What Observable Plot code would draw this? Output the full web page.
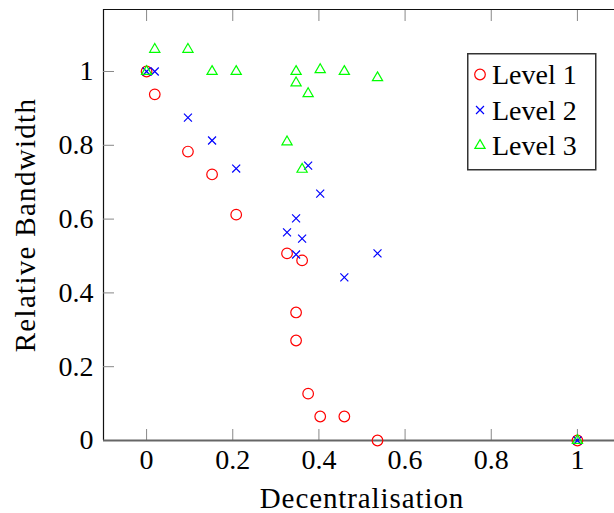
<!DOCTYPE html>
<html>
<head>
<meta charset="utf-8">
<script src="https://cdn.jsdelivr.net/npm/d3@7"></script>
<script src="https://cdn.jsdelivr.net/npm/@observablehq/plot@0.6"></script>
<style>
  html, body { margin: 0; padding: 0; background: #fff; overflow: hidden; }
  #wrap { position: relative; width: 614px; height: 513px; overflow: hidden; }
  #legend { position: absolute; left: 466.5px; top: 52.5px; }
</style>
</head>
<body>
<div id="wrap"></div>
<script>
// ---- data ----
const decentralisation = [0, 0.019, 0.096, 0.152, 0.208, 0.326, 0.347, 0.347, 0.361, 0.375, 0.403, 0.459, 0.536, 1];
const level1 = [1, 0.938, 0.783, 0.721, 0.612, 0.507, 0.347, 0.271, 0.488, 0.127, 0.065, 0.065, 0, 0];
const level2 = [1, 1, 0.875, 0.813, 0.737, 0.564, 0.602, 0.504, 0.547, 0.745, 0.669, 0.442, 0.507, 0];
const level3 = [1, 1.06, 1.06, 1.0, 1.0, 0.809, 1.0, 0.969, 0.735, 0.940, 1.005, 1.0, 0.983, 0];
const seriesNames = ["Level 1", "Level 2", "Level 3"];
const seriesColors = ["#ff0000", "#0000ff", "#00ff00"];
const seriesSymbols = ["circle", "times", "triangle"];
const xTicks = [0, 0.2, 0.4, 0.6, 0.8, 1];
const xTickLabels = ["0", "0.2", "0.4", "0.6", "0.8", "1"];
const yTicks = [0, 0.2, 0.4, 0.6, 0.8, 1];
const yTickLabels = ["0", "0.2", "0.4", "0.6", "0.8", "1"];
const xDomain = [-0.1, 1.1];
const yDomain = [0, 1.168];
const xTitle = "Decentralisation";
const yTitle = "Relative Bandwidth";

const seriesValues = [level1, level2, level3];
const rows = seriesValues.map((vals, i) =>
  vals.map((v, j) => ({series: seriesNames[i], x: decentralisation[j], y: v})));

const FONT = '"Liberation Serif", "Times New Roman", serif';
const symbolSizes = {circle: 5.3, times: 3.7, triangle: 3.8};

const chart = Plot.plot({
  width: 614,
  height: 513,
  marginLeft: 103,
  marginRight: -6,
  marginTop: 9,
  marginBottom: 73,
  style: {fontFamily: FONT, fontSize: "28px", color: "#000", background: "#fff"},
  x: {domain: xDomain, axis: null},
  y: {domain: yDomain, axis: null},
  marks: [
    // frame
    Plot.ruleX([xDomain[0]], {stroke: "#111", strokeWidth: 1.2}),
    Plot.ruleX([xDomain[1]], {stroke: "#111", strokeWidth: 1.2}),
    Plot.ruleY([yDomain[1]], {stroke: "#111", strokeWidth: 1.2}),
    // inward ticks
    Plot.axisX(xTicks, {anchor: "bottom", tickSize: -11, stroke: "#888", tickFormat: () => "", label: null}),
    Plot.axisX(xTicks, {anchor: "top", tickSize: -11, stroke: "#888", tickFormat: () => "", label: null}),
    Plot.axisY(yTicks, {anchor: "left", tickSize: -11, stroke: "#888", tickFormat: () => "", label: null}),
    // tick labels
    Plot.axisX(xTicks, {anchor: "bottom", tickSize: 0, tickPadding: 9, tickFormat: (d) => xTickLabels[xTicks.indexOf(d)], label: null}),
    Plot.axisY(yTicks, {anchor: "left", tickSize: 0, tickPadding: 10, tickFormat: (d) => yTickLabels[yTicks.indexOf(d)], label: null}),
    // bottom axis line
    Plot.ruleY([yDomain[0]], {stroke: "#666", strokeWidth: 2}),
    // data
    ...seriesNames.map((name, i) =>
      Plot.dot(rows[i], {
        x: "x", y: "y",
        symbol: () => seriesSymbols[i],
        r: symbolSizes[seriesSymbols[i]],
        stroke: seriesColors[i], fill: "none", strokeWidth: 1.2
      })),
    // axis titles
    Plot.text([xTitle], {frameAnchor: "bottom", dy: 67, text: d => d, fontSize: 29, fill: "#000", textAnchor: "middle"}),
    Plot.text([yTitle], {frameAnchor: "left", dx: -78, rotate: -90, text: d => d, fontSize: 29, fill: "#000", textAnchor: "middle", lineAnchor: "middle"})
  ]
});
// widen title lettering slightly to approximate the reference's wider serif face
d3.select(chart).selectAll("text").each(function() {
  const t = this.textContent;
  if (t === xTitle) this.setAttribute("letter-spacing", "0.9");
  if (t === yTitle) this.setAttribute("letter-spacing", "1.3");
});
document.getElementById("wrap").appendChild(chart);

// ---- legend ----
const lw = 128, lh = 116;
const leg = d3.create("svg").attr("id", "legend").attr("width", lw + 2).attr("height", lh + 2);
leg.append("rect").attr("x", 0.75).attr("y", 0.75).attr("width", lw).attr("height", lh)
  .attr("fill", "#fff").attr("stroke", "#333").attr("stroke-width", 1.5);
const symMap = {circle: d3.symbolCircle, times: d3.symbolTimes, triangle: d3.symbolTriangle};
const rowY = [21.5, 57, 92.5];
seriesNames.forEach((name, i) => {
  const s = seriesSymbols[i];
  const r = symbolSizes[s];
  leg.append("path")
    .attr("transform", `translate(13,${rowY[i]})`)
    .attr("d", d3.symbol(symMap[s], r * r * Math.PI)())
    .attr("fill", "none").attr("stroke", seriesColors[i]).attr("stroke-width", 1.2);
  leg.append("text").attr("x", 25).attr("y", rowY[i]).attr("dy", "0.35em")
    .attr("font-family", FONT).attr("font-size", 28).attr("fill", "#000").text(name);
});
document.getElementById("wrap").appendChild(leg.node());
</script>
</body>
</html>
